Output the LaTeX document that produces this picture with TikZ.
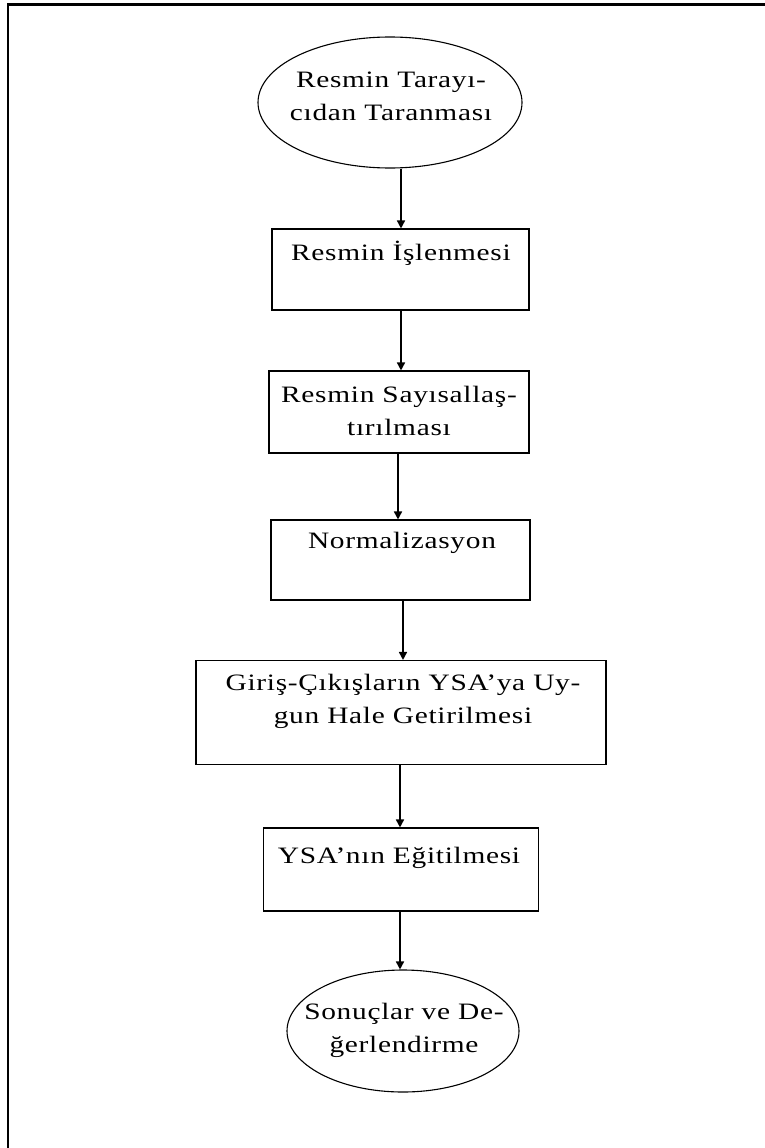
\documentclass[tikz,border=0pt]{standalone}
\usepackage{fontspec}
\setmainfont{Liberation Serif}[FakeStretch=1.25,LetterSpace=3]
\usetikzlibrary{arrows.meta,shapes.geometric}
\begin{document}
\begin{tikzpicture}[x=1pt,y=-1pt,
  outline/.style={draw,line width=1.1pt,inner sep=0pt},
  stepbox/.style={outline,rectangle},
  endcap/.style={outline,ellipse},
  lbl/.style={align=center,inner sep=0pt,
    font=\fontsize{23.5}{33}\selectfont},
  arr/.style={line width=1.6pt,-{Triangle[width=8pt,length=8pt]}},
  frame/.style={line width=2.2pt}
]
\useasboundingbox (0,0) rectangle (765,1148);

% page frame (top and left edges)
\coordinate (fl) at (7.7,1148);
\coordinate (ftl) at (7.7,4.5);
\coordinate (ftr) at (765,4.5);
\draw[frame] (fl) -- (ftl) -- (ftr);

% flow steps
\node[endcap,minimum width=264pt,minimum height=131pt] (e1) at (390,102.5) {};
\node[lbl] (t1) at (391,96) {Resmin Tarayı-\\cıdan Taranması};

\node[stepbox,minimum width=257pt,minimum height=81pt] (b2) at (400.5,269.5) {};
\node[lbl] (t2) at (401,253) {Resmin İşlenmesi};

\node[stepbox,minimum width=260pt,minimum height=82pt] (b3) at (399,412) {};
\node[lbl] (t3) at (399,411) {Resmin Sayısallaş-\\tırılması};

\node[stepbox,minimum width=259pt,minimum height=80pt] (b4) at (400.5,560) {};
\node[lbl] (t4) at (402,543) {Normalizasyon};

\node[stepbox,minimum width=410pt,minimum height=104pt] (b5) at (401,712.5) {};
\node[lbl] (t5) at (403,701) {Giriş-Çıkışların YSA’ya Uy-\\gun Hale Getirilmesi};

\node[stepbox,minimum width=275pt,minimum height=83pt] (b6) at (401,869.5) {};
\node[lbl] (t6) at (399,858) {YSA’nın Eğitilmesi};

\node[endcap,minimum width=232pt,minimum height=122pt] (e2) at (403,1031) {};
\node[lbl] (t7) at (404,1030) {Sonuçlar ve De-\\ğerlendirme};

% connectors
\draw[arr] ([xshift=11pt]e1.south) -- ([xshift=11pt]e1.south |- b2.north);
\draw[arr] ([xshift=0.5pt]b2.south) -- ([xshift=0.5pt]b2.south |- b3.north);
\draw[arr] ([xshift=-1pt]b3.south) -- ([xshift=-1pt]b3.south |- b4.north);
\draw[arr] ([xshift=2.5pt]b4.south) -- ([xshift=2.5pt]b4.south |- b5.north);
\draw[arr] ([xshift=-1pt]b5.south) -- ([xshift=-1pt]b5.south |- b6.north);
\draw[arr] ([xshift=-1pt]b6.south) -- ([xshift=-1pt]b6.south |- e2.north);
\end{tikzpicture}
\end{document}
